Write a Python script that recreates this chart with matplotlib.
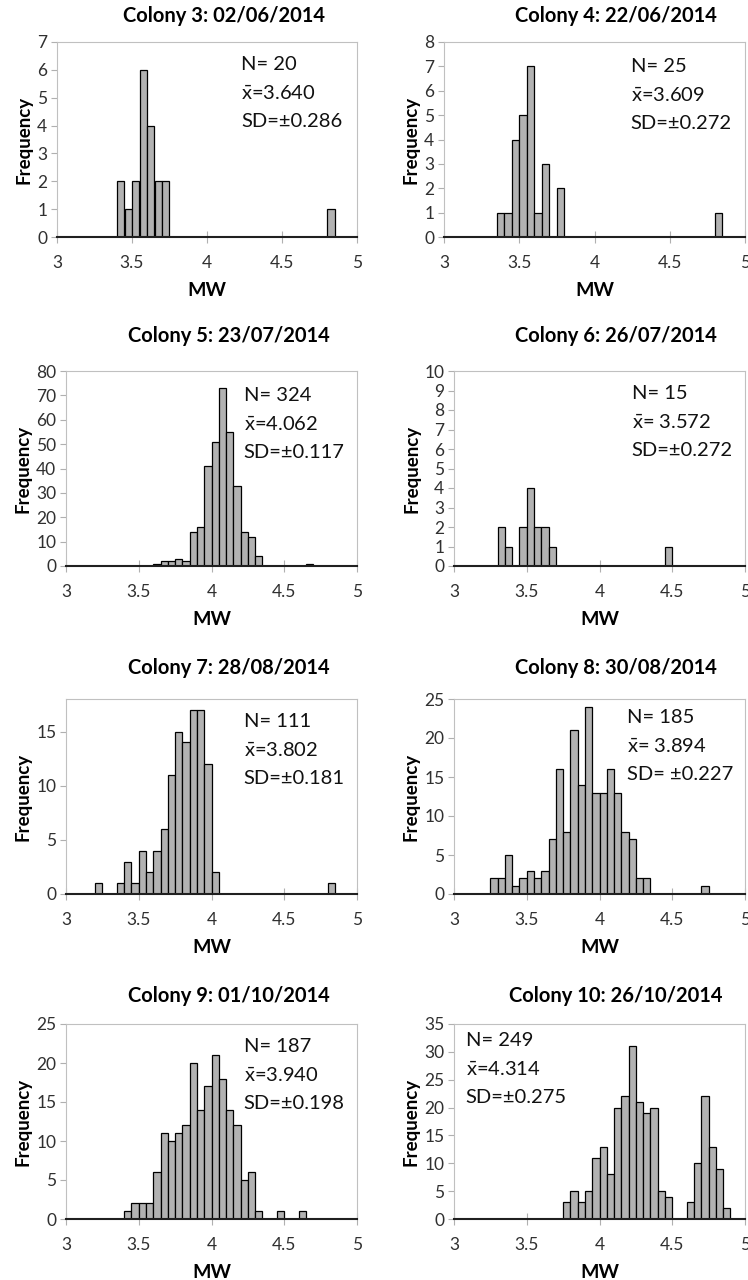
import matplotlib.pyplot as plt

plt.rcParams['font.family'] = ['Lato', 'DejaVu Sans']
plt.rcParams['mathtext.fontset'] = 'custom'
plt.rcParams['mathtext.rm'] = 'Lato'

BIN = 0.05

# histogram counts, consecutive 0.05 bins from the given start (MW)
c3_start, c3_counts = 3.40, [2, 1, 2, 6, 4, 2, 2]
c3_out = [(4.80, 1)]
c4_start, c4_counts = 3.35, [1, 1, 4, 5, 7, 1, 3, 0, 2]
c4_out = [(4.80, 1)]
c5_start, c5_counts = 3.60, [1, 2, 2, 3, 2, 14, 16, 41, 51, 73, 55, 33, 14, 12, 4]
c5_out = [(4.65, 1)]
c6_start, c6_counts = 3.30, [2, 1, 0, 2, 4, 2, 2, 1]
c6_out = [(4.45, 1)]
c7_start, c7_counts = 3.35, [1, 3, 1, 4, 2, 4, 6, 11, 15, 14, 17, 17, 12, 2]
c7_out = [(3.20, 1), (4.80, 1)]
c8_start, c8_counts = 3.25, [2, 2, 5, 1, 2, 3, 2, 3, 7, 16, 8, 21, 14, 24, 13, 13, 16, 13, 8, 7, 2, 2]
c8_out = [(4.70, 1)]
c9_start, c9_counts = 3.40, [1, 2, 2, 2, 6, 11, 10, 11, 12, 20, 14, 17, 21, 18, 14, 12, 5, 6, 1]
c9_out = [(4.45, 1), (4.60, 1)]
c10_start, c10_counts = 3.75, [3, 5, 3, 5, 11, 13, 8, 20, 22, 31, 21, 19, 20, 5, 4, 0, 0, 3, 10, 22, 13, 9, 2]
c10_out = []

titles = ['Colony 3: 02/06/2014', 'Colony 4: 22/06/2014', 'Colony 5: 23/07/2014',
          'Colony 6: 26/07/2014', 'Colony 7: 28/08/2014', 'Colony 8: 30/08/2014',
          'Colony 9: 01/10/2014', 'Colony 10: 26/10/2014']
n_vals = ['20', '25', '324', '15', '111', '185', '187', '249']
mean_vals = ['=3.640', '=3.609', '=4.062', '= 3.572', '=3.802', '= 3.894', '=3.940', '=4.314']
sd_vals = ['SD=±0.286', 'SD=±0.272', 'SD=±0.117', 'SD=±0.272', 'SD=±0.181', 'SD= ±0.227',
           'SD=±0.198', 'SD=±0.275']
ymaxs = [7, 8, 80, 10, 18, 25, 25, 35]
ysteps = [1, 1, 10, 1, 5, 5, 5, 5]

data = [(c3_start, c3_counts, c3_out), (c4_start, c4_counts, c4_out),
        (c5_start, c5_counts, c5_out), (c6_start, c6_counts, c6_out),
        (c7_start, c7_counts, c7_out), (c8_start, c8_counts, c8_out),
        (c9_start, c9_counts, c9_out), (c10_start, c10_counts, c10_out)]

# layout in pixels: (left, top, right, bottom)
W, H = 748, 1280
boxes = [(57, 42, 357, 237), (444, 42, 745, 237),
         (66, 371, 357, 566), (454, 371, 745, 566),
         (66, 699, 357, 894), (454, 699, 745, 894),
         (66, 1024, 357, 1219), (454, 1024, 745, 1219)]
title_y = [16, 16, 336, 336, 668, 668, 996, 996]
title_x = [224, 616, 229, 616, 229, 616, 229, 616]
text_pos = [(0.613, 0.93), (0.62, 0.92), (0.61, 0.92), (0.61, 0.93),
            (0.61, 0.93), (0.595, 0.95), (0.61, 0.93), (0.04, 0.96)]

fig = plt.figure(figsize=(W / 100, H / 100), dpi=100)

for i in range(8):
    l, t, r, b = boxes[i]
    ax = fig.add_axes([l / W, 1 - b / H, (r - l) / W, (b - t) / H])
    start, counts, out = data[i]
    xs = [round(start + BIN * k, 2) for k in range(len(counts)) if counts[k] > 0]
    ys = [c for c in counts if c > 0]
    xs += [o[0] for o in out]
    ys += [o[1] for o in out]
    ax.bar(xs, ys, width=BIN, align='edge', color='#b2b2b2', edgecolor='black',
           linewidth=0.9, zorder=3)

    ax.set_xlim(3, 5)
    ax.set_ylim(0, ymaxs[i])
    ax.set_xticks([3, 3.5, 4, 4.5, 5])
    ax.set_xticklabels(['3', '3.5', '4', '4.5', '5'])
    ax.set_yticks(range(0, ymaxs[i] + 1, ysteps[i]))

    for s in ['top', 'right', 'left']:
        ax.spines[s].set_color('#c0c0c0')
        ax.spines[s].set_linewidth(0.8)
    ax.spines['bottom'].set_color('#202020')
    ax.spines['bottom'].set_linewidth(1.5)
    ax.spines['bottom'].set_zorder(4)

    ax.tick_params(axis='x', direction='inout', length=8, width=0.8, color='#b0b0b0',
                   labelsize=12.5, labelcolor='#303030', pad=9)
    ax.tick_params(axis='y', direction='out', length=4, width=0.8, color='#b0b0b0',
                   labelsize=12.5, labelcolor='#303030', pad=3)

    ax.set_xlabel('MW', fontsize=14, fontweight='bold', labelpad=8)
    ax.set_ylabel('Frequency', fontsize=13.5, fontweight='bold', labelpad=3)

    fig.text(title_x[i] / W, 1 - title_y[i] / H, titles[i], ha='center', va='center',
             fontsize=14.5, fontweight='bold')

    tx, ty = text_pos[i]
    step = 28.5 / 195
    ax.text(tx, ty, 'N= ' + n_vals[i], transform=ax.transAxes, fontsize=14.5,
            va='top', ha='left', color='#111111')
    ax.text(tx, ty - step, r'$\bar{\mathrm{x}}$' + mean_vals[i], transform=ax.transAxes,
            fontsize=14.5, va='top', ha='left', color='#111111')
    ax.text(tx, ty - 2 * step, sd_vals[i], transform=ax.transAxes, fontsize=14.5,
            va='top', ha='left', color='#111111')

fig.savefig('out.png', dpi=100, facecolor='white')
